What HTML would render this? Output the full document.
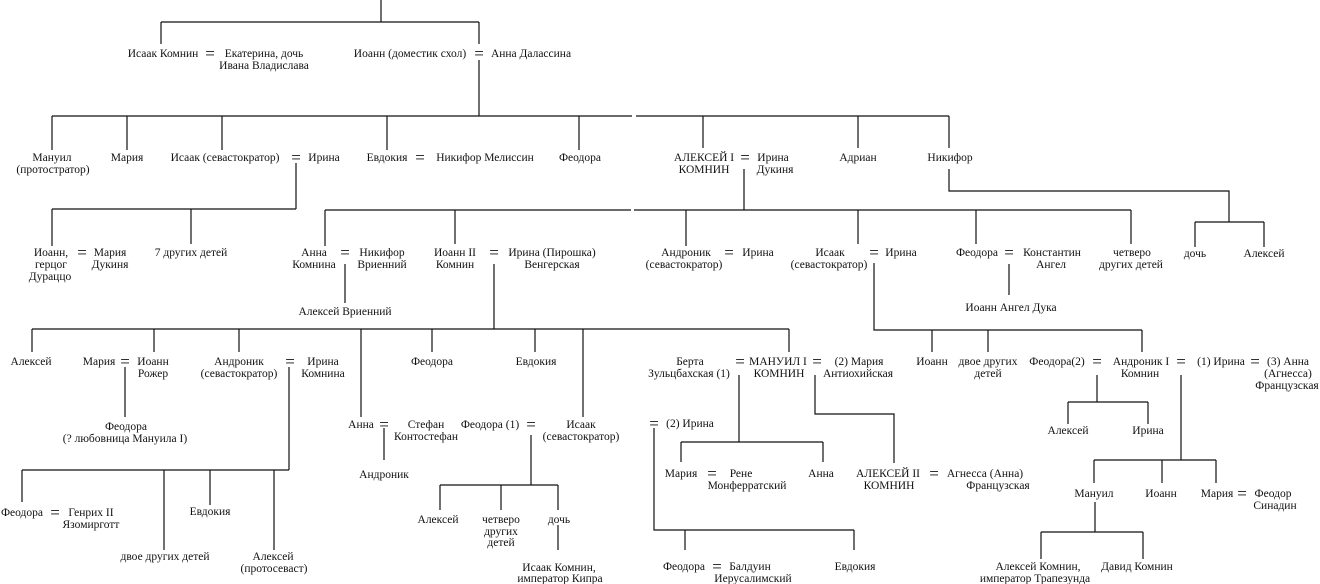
<!DOCTYPE html>
<html><head><meta charset="utf-8"><style>
html,body{margin:0;padding:0;background:#fff;}
svg{display:block;}
text{font-family:"Liberation Serif",serif;font-size:11.5px;fill:#111;text-anchor:middle;}
text.eq{font-size:17px;}
path{stroke:#111;stroke-width:1.2;fill:none;}
</style></head><body>
<svg width="1320" height="584" viewBox="0 0 1320 584" xmlns="http://www.w3.org/2000/svg">
<path d="
M381 0V22 M161 22H479 M161 22V44 M479 22V44
M479 60V116 M52 116H632 M636 116H949
M52 116V150 M127 116V150 M222 116V150 M387 116V150 M579 116V150 M703 116V148 M858 116V148 M949 116V148
M296 163V209 M52 209H296 M52 209V246 M191 209V244
M744 169V210 M325 210H631 M634 210H1131
M325 210V246 M455 210V244 M686 210V246 M858 210V244 M976 210V244 M1131 210V244
M949 169V191H1229V222 M1195 222H1264 M1195 222V247 M1264 222V247
M345 264V303
M1009 264V295
M874 263V330H1142 M932 330V352 M988 330V352 M1142 330V352
M494 264V329 M32 329H789 M32 329V352 M154 329V352 M239 329V352 M361 329V417 M432 329V352 M535 329V352 M583 329V417 M789 329V352
M125 367V417
M289 367V470 M22 470H289 M22 470V502 M164 470V550 M210 470V505 M274 470V550
M384 428V460
M531 435V485 M440 485H558 M440 485V510 M501 485V510 M558 485V510 M558 525V550
M739 375V442 M681 442H823 M681 442V462 M823 442V462
M815 375V414H894V463
M654 428V530H854 M685 530V550 M854 530V550
M1097 375V402 M1068 402H1148 M1068 402V424 M1148 402V424
M1181 375V460 M1094 460H1216 M1094 460V483 M1162 460V483 M1216 460V483
M1095 502V532 M1041 532H1143 M1041 532V559 M1143 532V559
"/>
<!-- row 1 -->
<text x="163" y="57">Исаак Комнин</text><text class="eq" x="210" y="59">=</text>
<text x="264" y="57">Екатерина, дочь</text><text x="264" y="69">Ивана Владислава</text>
<text x="410" y="57">Иоанн (доместик схол)</text><text class="eq" x="479" y="59">=</text>
<text x="531" y="57">Анна Далассина</text>
<!-- row 2 -->
<text x="52" y="161">Мануил</text><text x="53" y="173">(протостратор)</text>
<text x="127" y="161">Мария</text>
<text x="225" y="161">Исаак (севастократор)</text><text class="eq" x="296" y="163">=</text><text x="324" y="161">Ирина</text>
<text x="387" y="161">Евдокия</text><text class="eq" x="420" y="163">=</text><text x="485" y="161">Никифор Мелиссин</text>
<text x="580" y="161">Феодора</text>
<text x="704" y="161">АЛЕКСЕЙ I</text><text x="704" y="173">КОМНИН</text><text class="eq" x="745" y="163">=</text>
<text x="773" y="161">Ирина</text><text x="775" y="173">Дукиня</text>
<text x="858" y="161">Адриан</text><text x="950" y="161">Никифор</text>
<!-- row 3 -->
<text x="51" y="256">Иоанн,</text><text x="51" y="268">герцог</text><text x="50" y="280">Дураццо</text>
<text class="eq" x="82" y="258">=</text><text x="110" y="256">Мария</text><text x="110" y="268">Дукиня</text>
<text x="191" y="256">7 других детей</text>
<text x="314" y="256">Анна</text><text x="314" y="268">Комнина</text><text class="eq" x="345" y="258">=</text>
<text x="382" y="256">Никифор</text><text x="382" y="268">Вриенний</text>
<text x="345" y="315">Алексей Вриенний</text>
<text x="455" y="256">Иоанн II</text><text x="455" y="268">Комнин</text><text class="eq" x="494" y="258">=</text>
<text x="552" y="256">Ирина (Пирошка)</text><text x="552" y="268">Венгерская</text>
<text x="686" y="256">Андроник</text><text x="684" y="268">(севастократор)</text><text class="eq" x="729" y="258">=</text><text x="758" y="256">Ирина</text>
<text x="830" y="256">Исаак</text><text x="829" y="268">(севастократор)</text><text class="eq" x="874" y="258">=</text><text x="901" y="256">Ирина</text>
<text x="977" y="256">Феодора</text><text class="eq" x="1009" y="258">=</text><text x="1052" y="256">Константин</text><text x="1051" y="268">Ангел</text>
<text x="1132" y="256">четверо</text><text x="1131" y="268">других детей</text>
<text x="1011" y="311">Иоанн Ангел Дука</text>
<text x="1195" y="257">дочь</text><text x="1264" y="257">Алексей</text>
<!-- row 4 -->
<text x="31" y="365">Алексей</text>
<text x="99" y="365">Мария</text><text class="eq" x="125" y="367">=</text><text x="153" y="365">Иоанн</text><text x="153" y="377">Рожер</text>
<text x="126" y="430">Феодора</text><text x="125" y="442">(? любовница Мануила I)</text>
<text x="239" y="365">Андроник</text><text x="239" y="377">(севастократор)</text><text class="eq" x="290" y="367">=</text>
<text x="323" y="365">Ирина</text><text x="323" y="377">Комнина</text>
<text x="432" y="365">Феодора</text><text x="536" y="365">Евдокия</text>
<text x="361" y="428">Анна</text><text class="eq" x="384" y="430">=</text><text x="426" y="428">Стефан</text><text x="426" y="440">Контостефан</text>
<text x="384" y="478">Андроник</text>
<text x="490" y="428">Феодора (1)</text><text class="eq" x="531" y="430">=</text>
<text x="581" y="428">Исаак</text><text x="581" y="440">(севастократор)</text>
<text x="438" y="523">Алексей</text><text x="501" y="523">четверо</text><text x="501" y="535">других</text><text x="501" y="546">детей</text>
<text x="559" y="523">дочь</text>
<text x="559" y="571">Исаак Комнин,</text><text x="560" y="582">император Кипра</text>
<text x="22" y="516">Феодора</text><text class="eq" x="55" y="518">=</text><text x="91" y="516">Генрих II</text><text x="91" y="528">Язомирготт</text>
<text x="210" y="515">Евдокия</text>
<text x="165" y="560">двое других детей</text>
<text x="273" y="560">Алексей</text><text x="274" y="572">(протосеваст)</text>
<text x="690" y="365">Берта</text><text x="689" y="377">Зульцбахская (1)</text><text class="eq" x="740" y="367">=</text>
<text x="778" y="365">МАНУИЛ I</text><text x="779" y="377">КОМНИН</text><text class="eq" x="817" y="367">=</text>
<text x="859" y="365">(2) Мария</text><text x="858" y="377">Антиохийская</text>
<text class="eq" x="654" y="429">=</text><text x="690" y="427">(2) Ирина</text>
<text x="681" y="477">Мария</text><text class="eq" x="712" y="479">=</text><text x="741" y="477">Рене</text><text x="747" y="489">Монферратский</text>
<text x="821" y="477">Анна</text>
<text x="888" y="477">АЛЕКСЕЙ II</text><text x="889" y="489">КОМНИН</text><text class="eq" x="934" y="479">=</text>
<text x="985" y="477">Агнесса (Анна)</text><text x="998" y="489">Французская</text>
<text x="684" y="570">Феодора</text><text class="eq" x="717" y="572">=</text><text x="750" y="570">Балдуин</text><text x="753" y="582">Иерусалимский</text>
<text x="855" y="570">Евдокия</text>
<text x="932" y="365">Иоанн</text><text x="988" y="365">двое других</text><text x="988" y="377">детей</text>
<text x="1057" y="365">Феодора(2)</text><text class="eq" x="1097" y="367">=</text>
<text x="1141" y="365">Андроник I</text><text x="1140" y="377">Комнин</text><text class="eq" x="1181" y="367">=</text>
<text x="1221" y="365">(1) Ирина</text><text class="eq" x="1255" y="367">=</text>
<text x="1288" y="365">(3) Анна</text><text x="1288" y="377">(Агнесса)</text><text x="1287" y="389">Французская</text>
<text x="1068" y="434">Алексей</text><text x="1148" y="434">Ирина</text>
<text x="1094" y="497">Мануил</text><text x="1161" y="497">Иоанн</text><text x="1217" y="497">Мария</text>
<text class="eq" x="1242" y="499">=</text><text x="1273" y="497">Феодор</text><text x="1275" y="509">Синадин</text>
<text x="1038" y="570">Алексей Комнин,</text><text x="1035" y="582">император Трапезунда</text>
<text x="1137" y="570">Давид Комнин</text>
</svg>
</body></html>
